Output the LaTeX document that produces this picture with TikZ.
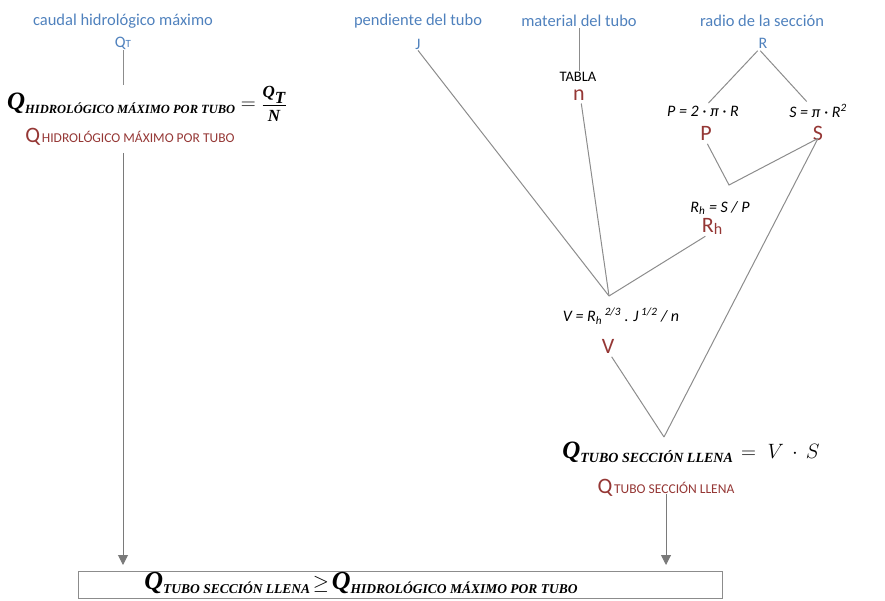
\documentclass[tikz,border=0pt]{standalone}
\usepackage{fontspec}
\setmainfont{Carlito}
\newfontfamily\serifbi{Liberation Serif}
\usetikzlibrary{arrows.meta}
\definecolor{lblue}{HTML}{4F81BD}
\definecolor{lred}{HTML}{953735}
\definecolor{lgray}{HTML}{8C8C8C}
\definecolor{agray}{HTML}{7A7A7A}
\newcommand{\QBI}[3]{{\serifbi\bfseries\itshape\fontsize{#1}{#1}\selectfont Q\raisebox{-4pt}{\fontsize{#2}{#2}\selectfont #3}}}
\newcommand{\QR}[1]{{\fontsize{22}{22}\selectfont Q}\,{\fontsize{13.5}{14}\selectfont #1}}
\begin{document}
\begin{tikzpicture}[x=1pt,y=-1pt,
  every node/.style={inner sep=1pt},
  lbl/.style={text=lblue,font=\fontsize{16.5}{18}\selectfont},
  res/.style={text=lred,font=\fontsize{22}{24}\selectfont},
  frm/.style={font=\fontsize{16}{18}\selectfont\itshape},
  con/.style={draw=lgray,line width=1pt},
  arr/.style={draw=agray,line width=1pt,-{Triangle[width=10pt,length=10pt]}}]
\path[use as bounding box] (0,0) rectangle (885,601);

% left column
\node[lbl] (caudal) at (123,21) {caudal hidrológico máximo};
\node[lbl] (QT) at (123,43) {\fontsize{16}{16}\selectfont Q{\fontsize{11}{11}\selectfont T}};
\node (qhf) at (147,104) {\QBI{25}{12.5}{HIDROLÓGICO MÁXIMO POR TUBO}\;\;{\fontsize{22}{22}\selectfont$=$}\;\;{\serifbi\bfseries\itshape\fontsize{17}{18}\selectfont$\displaystyle\frac{\textbf{\textit{Q}}_{\textbf{\textit{T}}}}{\textbf{\textit{N}}}$}};
\node[text=lred] (qhr) at (130,137) {\QR{HIDROLÓGICO MÁXIMO POR TUBO}};

% top labels
\node[lbl] (pend) at (418,21) {pendiente del tubo};
\node[lbl] (J) at (418,44) {\fontsize{16}{16}\selectfont J};
\node[lbl] (matl) at (579,21) {material del tubo};
\node (tabla) at (578,77) {\fontsize{14.5}{15}\selectfont TABLA};
\node[res] (n) at (579,95) {n};
\node[lbl] (radio) at (762,21) {radio de la sección};
\node[lbl] (R) at (763,43) {\fontsize{16}{16}\selectfont R};

% P and S
\node[frm] (Pf) at (703,111) {P = 2 · π · R};
\node[frm] (Sf) at (818,111) {S = π · R\textsuperscript{2}};
\node[res] (Pr) at (706,133) {P};
\node[res] (Sr) at (818,133) {S};

% Rh
\node[frm] (Rhf) at (720,208) {R\textsubscript{h} = S / P};
\node[res] (Rhr) at (712,226) {R{\fontsize{16}{16}\selectfont\raisebox{-2pt}{h}}};

% V
\node[frm] (Vf) at (621,316) {V = R\textsubscript{h}\,\textsuperscript{2/3} . J\,\textsuperscript{1/2} / n};
\node[res] (Vr) at (608,346) {V};

% Q tube
\node (qtf) at (691,452) {\QBI{25}{14}{TUBO SECCIÓN LLENA}\;\;\;{\fontsize{22}{24}\selectfont$=\;V\,\cdot\,S$}};
\node[text=lred] (qtr) at (666,488) {\QR{TUBO SECCIÓN LLENA}};

% bottom box
\node[draw=lgray,line width=1pt,minimum width=644pt,minimum height=27pt,inner sep=0pt] (box) at (400,585) {};
\node (cmp) at (361,583) {\QBI{26}{13.5}{TUBO SECCIÓN LLENA}\;{\fontsize{21}{22}\selectfont$\geq$}\;\QBI{26}{13.5}{HIDROLÓGICO MÁXIMO POR TUBO}};

% junctions
\coordinate (vj) at (609,296);
\coordinate (ps) at (729,185);
\coordinate (qj) at (664,437);

% connectors
\draw[con] (QT.south) -- (QT.south |- qhf.north);
\draw[arr,shorten >=6pt] (qhr.south -| QT.south) ++(0,6) -- (QT.south |- box.north);
\draw[con] (matl.south) -- (matl.south |- tabla.north);
\draw[con] (J.south) -- (vj);
\draw[con,shorten <=2pt] ([xshift=2pt]n.south) -- (vj);
\draw[con,shorten <=2pt] ([xshift=-5pt]Rhr.south) -- (vj);
\draw[con,shorten <=2pt,shorten >=2pt] ([xshift=-4pt]R.south) -- ([xshift=4pt]Pf.north);
\draw[con,shorten <=2pt,shorten >=2pt] ([xshift=-4pt]R.south) -- ([xshift=-10pt]Sf.north);
\draw[con,shorten <=3pt] (Pr.south) -- (ps) -- ([yshift=3pt]Sr.south);
\draw[con] ([yshift=3pt]Sr.south) -- (qj);
\draw[con,shorten <=3pt] ([xshift=2pt]Vr.south) -- (qj);
\draw[arr,shorten >=6pt] ([yshift=4pt]qtr.south) -- (qtr.south |- box.north);
\end{tikzpicture}
\end{document}
